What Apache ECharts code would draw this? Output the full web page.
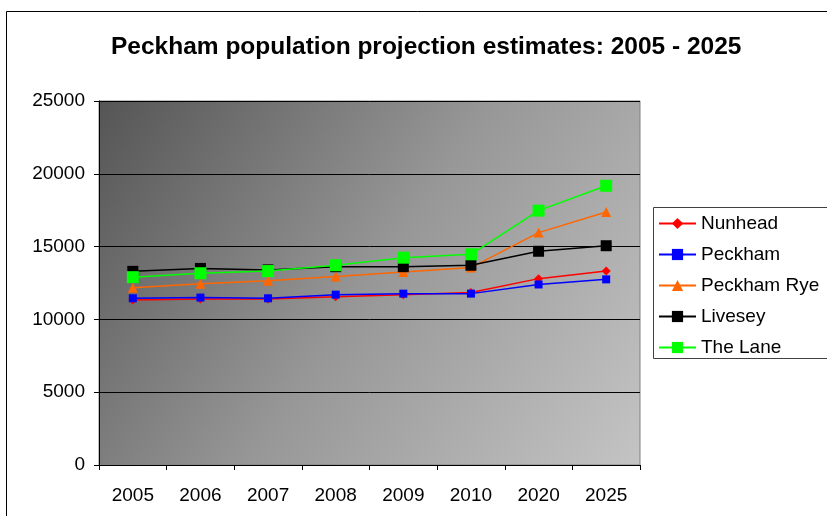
<!DOCTYPE html>
<html>
<head>
<meta charset="utf-8">
<style>
  html, body { margin: 0; padding: 0; background: #fff; }
  #chart { width: 827px; height: 516px; }
</style>
<script src="https://cdn.jsdelivr.net/npm/echarts@6/dist/echarts.min.js"></script>
</head>
<body>
<div id="chart"></div>
<script>
// Projected population by ward
const years = ['2005', '2006', '2007', '2008', '2009', '2010', '2020', '2025'];
const nunhead    = [11330, 11400, 11400, 11550, 11700, 11850, 12800, 13320];
const peckham    = [11450, 11500, 11450, 11700, 11770, 11770, 12400, 12750];
const peckhamRye = [12180, 12450, 12660, 12940, 13260, 13560, 15960, 17380];
const livesey    = [13300, 13500, 13400, 13620, 13620, 13720, 14680, 15060];
const theLane    = [12900, 13170, 13320, 13720, 14240, 14470, 17470, 19180];

const FONT = '"Liberation Sans", Arial, sans-serif';

function lineSeries(name, data, color, symbol, size) {
  return {
    name: name,
    type: 'line',
    data: data,
    symbol: symbol,
    symbolSize: size,
    showAllSymbol: true,
    itemStyle: { color: color },
    lineStyle: { color: color, width: 1.5 },
    emphasis: { disabled: true },
    animation: false
  };
}

const chart = echarts.init(document.getElementById('chart'), null, { renderer: 'canvas' });

chart.setOption({
  animation: false,
  backgroundColor: '#ffffff',
  title: {
    text: 'Peckham population projection estimates: 2005 - 2025',
    left: 106,
    top: 30,
    textStyle: { fontFamily: FONT, fontSize: 24.5, fontWeight: 'bold', color: '#000' }
  },
  grid: {
    left: 99, right: 187, top: 101, bottom: 51,
    show: true,
    borderColor: '#808080',
    borderWidth: 1,
    backgroundColor: new echarts.graphic.LinearGradient(0, 0, 1, 1, [
      { offset: 0, color: '#555555' },
      { offset: 0.5, color: '#979797' },
      { offset: 1, color: '#c4c4c4' }
    ])
  },
  legend: {
    orient: 'vertical',
    left: 653,
    top: 209,
    itemWidth: 37,
    itemHeight: 14,
    itemGap: 12,
    selectedMode: false,
    textStyle: { fontFamily: FONT, fontSize: 19, color: '#000' },
    data: ['Nunhead', 'Peckham', 'Peckham Rye', 'Livesey', 'The Lane']
  },
  xAxis: {
    type: 'category',
    data: years,
    boundaryGap: true,
    axisLine: { lineStyle: { color: '#000', width: 1 } },
    axisTick: { show: true, length: 5, lineStyle: { color: '#000' } },
    axisLabel: { margin: 21, fontFamily: FONT, fontSize: 19, color: '#000' },
    splitLine: { show: false }
  },
  yAxis: {
    type: 'value',
    min: 0,
    max: 25000,
    interval: 5000,
    axisLine: { show: true, lineStyle: { color: '#000', width: 1 } },
    axisTick: { show: true, length: 5, lineStyle: { color: '#000' } },
    axisLabel: {
      margin: 14, fontFamily: FONT, fontSize: 19, color: '#000',
      formatter: function (v) { return String(v); }
    },
    splitLine: { show: true, lineStyle: { color: '#000', width: 1 } }
  },
  graphic: [
    {
      type: 'rect',
      shape: { x: 6.5, y: 11.5, width: 900, height: 600 },
      style: { fill: 'none', stroke: '#000', lineWidth: 1 },
      silent: true,
      z: -10
    },
    {
      type: 'rect',
      shape: { x: 653.5, y: 207.5, width: 300, height: 151 },
      style: { fill: 'none', stroke: '#404040', lineWidth: 1 },
      silent: true
    }
  ],
  series: [
    lineSeries('Nunhead', nunhead, '#ff0000', 'diamond', 9),
    lineSeries('Peckham', peckham, '#0000ff', 'rect', 8),
    lineSeries('Peckham Rye', peckhamRye, '#ff6600', 'triangle', 10),
    lineSeries('Livesey', livesey, '#000000', 'rect', 11),
    lineSeries('The Lane', theLane, '#00ff00', 'rect', 12)
  ]
});
</script>
</body>
</html>
